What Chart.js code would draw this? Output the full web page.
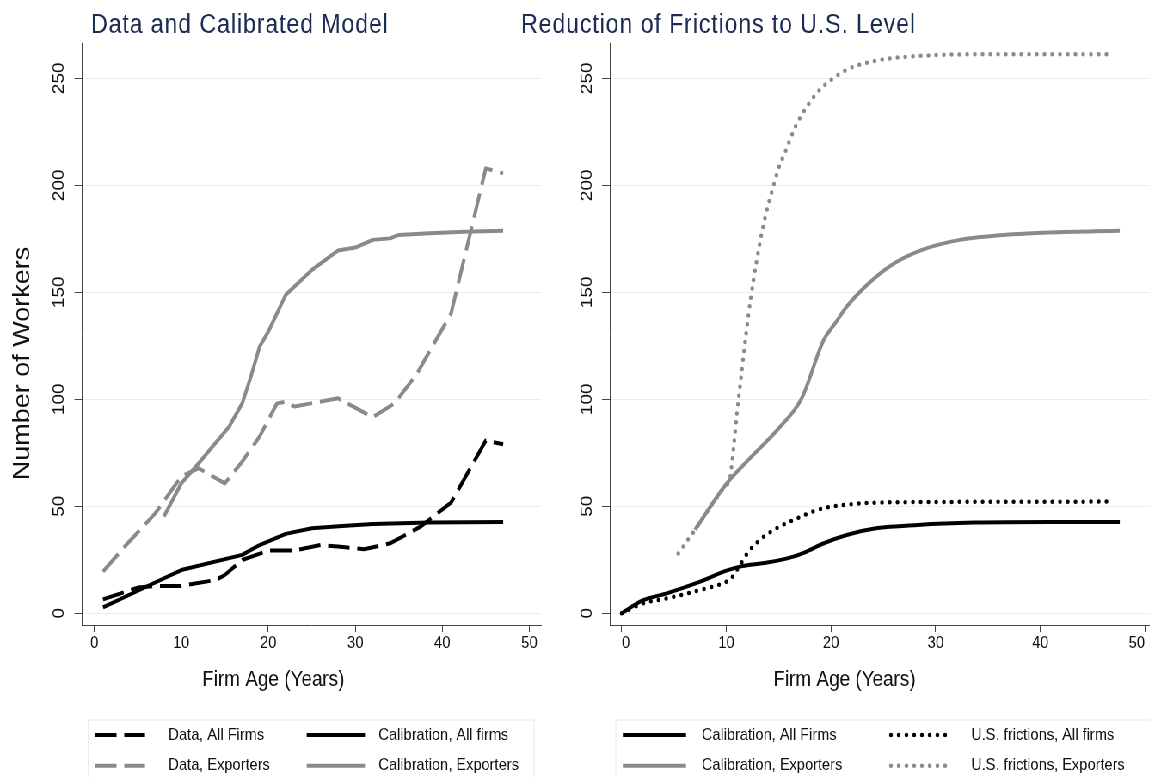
<!DOCTYPE html>
<html>
<head>
<meta charset="utf-8">
<script src="https://cdn.jsdelivr.net/npm/chart.js@4/dist/chart.umd.min.js"></script>
<style>
  html, body { margin: 0; padding: 0; background: #fff; overflow: hidden; }
  /* the reference is drawn a bit narrow, so the whole stage is squeezed horizontally */
  #stage { position: absolute; left: 0; top: 0; width: 1338px; height: 777px;
           transform: scaleX(0.86); transform-origin: 0 0; }
  #stage canvas { position: absolute; top: 0; }
</style>
</head>
<body>
<div id="stage">
  <canvas id="leftChart" width="660" height="777" style="left:0px"></canvas>
  <canvas id="rightChart" width="738" height="777" style="left:600px"></canvas>
</div>
<script>
const FONT = '"Liberation Sans", Arial, Helvetica, sans-serif';
const BLACK = "#000000";
const GRAY = "#8a8a8a";

const xTicks = [0, 10, 20, 30, 40, 50];
const yTicks = [0, 50, 100, 150, 200, 250];

// left panel: data and calibrated model
const ageDataAll = [1, 5, 7, 10, 14, 15, 17, 20, 23, 26, 28, 31, 34, 37.5, 41, 45, 47];
const dataAllFirms = [6.5, 12, 12.8, 12.8, 15.6, 17.9, 24.9, 29.3, 29.3, 31.9, 31.2, 29.9, 32.7, 40.5, 51.7, 80.7, 79];

const ageCalAll = [1, 5.6, 10, 17, 19, 22, 25, 28.5, 32, 38.5, 47];
const calAllFirms = [2.8, 11.7, 20.2, 27.3, 31.9, 37.1, 39.7, 40.8, 41.7, 42.4, 42.7];

const ageDataExp = [1, 3.5, 7, 10, 12, 15, 17, 19, 21, 22, 23, 28, 32, 34.5, 37, 41, 45, 47];
const dataExporters = [19.5, 31.2, 46.7, 63.9, 67.8, 60.7, 70.9, 82.6, 98.1, 98.9, 96.6, 100.5, 91.6, 98.1, 111.4, 140, 207.9, 205.6];

const ageCalExp = [8, 10, 12, 15.5, 17, 18, 19, 20, 22, 25, 28, 30, 32, 34, 35, 38.5, 42.5, 47];
const calExporters = [45.2, 60.7, 70.1, 87.2, 98.1, 110.6, 124.6, 131.6, 148.8, 160.4, 169.5, 170.9, 174.5, 175.2, 176.8, 177.6, 178.3, 178.8];

// right panel: reduction of frictions to U.S. level
const ageRCalAll = [0, 2, 4.3, 7.5, 10, 11.3, 13.9, 16.4, 17.5, 19.2, 21.5, 24.3, 28.3, 33.7, 40.9, 47.6];
const rCalAllFirms = [0, 6, 9.3, 14.8, 19.9, 21.8, 23.7, 26.5, 28.5, 32.5, 36.6, 39.7, 41.3, 42.4, 42.7, 42.7];

const ageRCalExp = [7, 10, 12.1, 15, 17.2, 19.3, 20.4, 21.5, 23.6, 25.8, 28.7, 32.3, 37.3, 40.9, 47.6];
const rCalExporters = [39, 60.5, 71.7, 86.4, 100.5, 127.7, 135.5, 143.3, 154.2, 162.8, 169.8, 174.5, 177.1, 178, 178.8];

const ageUsAll = [0, 2.1, 4.3, 7.5, 10, 10.5, 11.3, 12, 13.2, 14.8, 16.4, 18.7, 20, 22.9, 26.5, 47];
const usAllFirms = [0, 4.7, 7, 10.9, 14.8, 16.5, 22.6, 28, 34.3, 39.7, 43.6, 48.3, 49.8, 51.4, 51.9, 52.2];

const ageUsExp = [5.4, 7, 8.5, 10, 10.3, 10.7, 11, 11.4, 11.7, 12.1, 12.6, 13.2, 13.7, 14.4, 15, 15.7, 16.6, 17.7, 18.9, 20, 21.8, 24.7, 28.3, 33.7, 47];
const usExporters = [28, 39, 50, 60, 62, 78, 93, 110, 123, 139, 156, 173, 185, 198, 208, 216.5, 227.4, 236.8, 244.5, 249.2, 254.7, 258.6, 260.4, 261.2, 261.2];

const pairs = (xs, ys) => xs.map((x, i) => ({ x: x, y: ys[i] }));

const DASH = [25, 9];
const DOT = [0, 9];

function lineSet(label, xs, ys, color, kind) {
  const ds = {
    label: label,
    data: pairs(xs, ys),
    borderColor: color,
    backgroundColor: color,
    borderWidth: 4,
    pointRadius: 0,
    fill: false,
    borderCapStyle: "butt",
    borderJoinStyle: "round",
  };
  if (kind === "dash") ds.borderDash = DASH;
  if (kind === "dot") { ds.borderDash = DOT; ds.borderCapStyle = "round"; ds.borderWidth = 4.5; }
  return ds;
}

// titles, y title and the boxed legend are drawn here
const panelDecor = {
  id: "panelDecor",
  afterDraw(chart, args, o) {
    const ctx = chart.ctx;
    ctx.save();
    ctx.fillStyle = "#1c2c54";
    ctx.font = "27px " + FONT;
    ctx.textAlign = "left";
    ctx.textBaseline = "alphabetic";
    ctx.letterSpacing = "1px";
    ctx.fillText(o.title, o.titleX, 33);
    ctx.letterSpacing = "0px";

    ctx.fillStyle = "#111";
    ctx.font = "22px " + FONT;
    ctx.textAlign = "center";
    ctx.textBaseline = "middle";
    ctx.fillText("Firm Age (Years)", o.xTitleX, 680);

    if (o.yTitle) {
      ctx.save();
      ctx.translate(o.yTitleX, o.yTitleY);
      ctx.rotate(-Math.PI / 2);
      ctx.font = "27px " + FONT;
      ctx.fillText(o.yTitle, 0, 0);
      ctx.restore();
    }

    const lg = o.legend;
    ctx.strokeStyle = "#e3eaed";
    ctx.lineWidth = 1;
    ctx.strokeRect(lg.left, lg.top, lg.right - lg.left, 120);
    ctx.font = "17px " + FONT;
    ctx.textAlign = "left";
    lg.items.forEach(it => {
      const ds = chart.data.datasets[it.ds];
      const c = lg.cols[it.col];
      const y = lg.rows[it.row];
      ctx.save();
      ctx.strokeStyle = ds.borderColor;
      ctx.lineWidth = ds.borderWidth;
      ctx.lineCap = ds.borderCapStyle;
      ctx.setLineDash(ds.borderDash || []);
      ctx.beginPath();
      ctx.moveTo(c.x0, y);
      ctx.lineTo(c.x1, y);
      ctx.stroke();
      ctx.restore();
      ctx.fillStyle = "#111";
      ctx.fillText(ds.label, c.tx, y);
    });
    ctx.restore();
  }
};

function makePanel(id, datasets, xMin, xMax, yAxisWidth, padRight, decor, smooth, tickAlign) {
  return new Chart(document.getElementById(id).getContext("2d"), {
    type: "line",
    data: { datasets: datasets },
    plugins: [panelDecor],
    options: {
      responsive: false,
      animation: false,
      events: [],
      layout: { padding: { left: 0, right: padRight, top: 43, bottom: 0 } },
      elements: { line: { tension: 0, cubicInterpolationMode: smooth ? "monotone" : "default" } },
      plugins: {
        legend: { display: false },
        tooltip: { enabled: false },
        title: { display: false },
        panelDecor: decor,
      },
      scales: {
        x: {
          type: "linear",
          min: xMin,
          max: xMax,
          afterBuildTicks: s => { s.ticks = xTicks.map(v => ({ value: v })); },
          afterFit: s => { s.height = 152; s.paddingLeft = 0; s.paddingRight = 0; },
          grid: { drawOnChartArea: false, drawTicks: true, tickLength: 7, tickColor: "#444", tickWidth: 1 },
          border: { color: "#444", width: 1 },
          ticks: { color: "#111", font: { family: FONT, size: 17 }, padding: 1, maxRotation: 0, minRotation: 0,
                   align: tickAlign },
        },
        y: {
          type: "linear",
          min: -5.47,
          max: 266.5,
          afterBuildTicks: s => { s.ticks = yTicks.map(v => ({ value: v })); },
          afterFit: s => { s.width = yAxisWidth; },
          grid: { color: "#e6eef1", lineWidth: 1, drawTicks: true, tickLength: 9.3, tickColor: "#444", tickWidth: 1 },
          border: { color: "#444", width: 1 },
          ticks: { color: "#111", font: { family: FONT, size: 19 }, padding: 1.5,
                   minRotation: 90, maxRotation: 90, crossAlign: "center" },
        },
      },
    },
  });
}

const leftChart = makePanel("leftChart", [
  lineSet("Data, All Firms", ageDataAll, dataAllFirms, BLACK, "dash"),
  lineSet("Calibration, All firms", ageCalAll, calAllFirms, BLACK, "solid"),
  lineSet("Data, Exporters", ageDataExp, dataExporters, GRAY, "dash"),
  lineSet("Calibration, Exporters", ageCalExp, calExporters, GRAY, "solid"),
], -1.36, 51.35, 95.9, 30.9, {
  title: "Data and Calibrated Model", titleX: 105.8,
  xTitleX: 317.8,
  yTitle: "Number of Workers", yTitleX: 26.2, yTitleY: 363.5,
  legend: {
    left: 102.7, right: 620.9, top: 720,
    rows: [735, 765.7],
    cols: [{ x0: 110.5, x1: 168.6, tx: 195.7 }, { x0: 356.6, x1: 424.4, tx: 439.9 }],
    items: [{ ds: 0, col: 0, row: 0 }, { ds: 1, col: 1, row: 0 }, { ds: 2, col: 0, row: 1 }, { ds: 3, col: 1, row: 1 }],
  },
}, false, "center");

const rightChart = makePanel("rightChart", [
  lineSet("Calibration, All Firms", ageRCalAll, rCalAllFirms, BLACK, "solid"),
  lineSet("Calibration, Exporters", ageRCalExp, rCalExporters, GRAY, "solid"),
  lineSet("U.S. frictions, All firms", ageUsAll, usAllFirms, BLACK, "dot"),
  lineSet("U.S. frictions, Exporters", ageUsExp, usExporters, GRAY, "dot"),
], -1.12, 50.55, 109.3, 0, {
  title: "Reduction of Frictions to U.S. Level", titleX: 5.8,
  xTitleX: 382,
  yTitle: null,
  legend: {
    left: 116, right: 760, top: 720,
    rows: [735, 765.7],
    cols: [{ x0: 124.2, x1: 197.7, tx: 216 }, { x0: 436, x1: 503.5, tx: 529.3 }],
    items: [{ ds: 0, col: 0, row: 0 }, { ds: 1, col: 0, row: 1 }, { ds: 2, col: 1, row: 0 }, { ds: 3, col: 1, row: 1 }],
  },
}, true, "inner");
</script>
</body>
</html>
